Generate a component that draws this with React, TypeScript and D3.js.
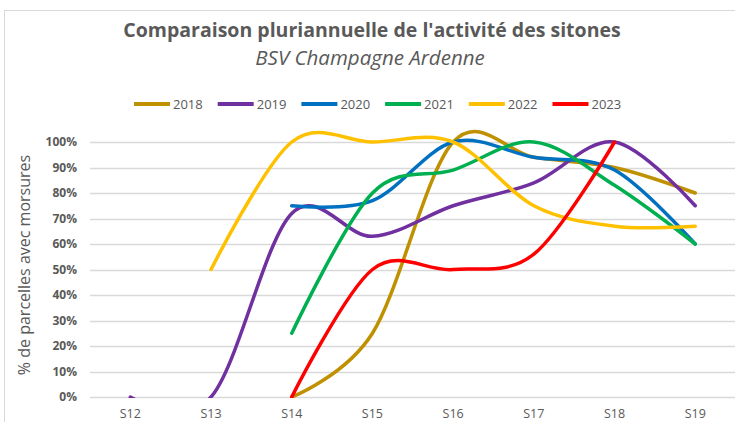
import React, { useEffect, useRef } from "react";
import * as d3 from "d3";

// Semaines et séries (part des parcelles avec morsures)
const weeks = ["S12", "S13", "S14", "S15", "S16", "S17", "S18", "S19"];
const years = ["2018", "2019", "2020", "2021", "2022", "2023"];
const colors = ["#BF9000", "#7030A0", "#0070C0", "#00B050", "#FFC000", "#FF0000"];

const s2018 = [null, null, 0, 0.25, 1.0, 0.94, 0.9, 0.8];
const s2019 = [0, 0, 0.72, 0.63, 0.75, 0.84, 1.0, 0.75];
const s2020 = [null, null, 0.75, 0.77, 1.0, 0.94, 0.89, 0.6];
const s2021 = [null, null, 0.25, 0.8, 0.89, 1.0, 0.83, 0.6];
const s2022 = [null, 0.5, 1.0, 1.0, 1.0, 0.75, 0.67, 0.67];
const s2023 = [null, null, 0, 0.5, 0.5, 0.56, 1.0, null];

const yTicks = [0, 0.1, 0.2, 0.3, 0.4, 0.5, 0.6, 0.7, 0.8, 0.9, 1.0];

const App = () => {
  const chartRef = useRef<HTMLDivElement>(null);

  useEffect(() => {
    d3.select(chartRef.current).select("svg").remove();

    const width = 735;
    const height = 422;
    const margin = { top: 142, right: 0, bottom: 25, left: 90 };
    const font = "'Open Sans', sans-serif";
    const series = [s2018, s2019, s2020, s2021, s2022, s2023];

    const svg = d3
      .select(chartRef.current)
      .append("svg")
      .attr("width", width)
      .attr("height", height)
      .style("position", "absolute")
      .style("left", 0)
      .style("top", 0)
      .style("font-family", font);

    svg.append("rect").attr("width", width).attr("height", height).attr("fill", "#fff");

    // chart area border (cut at the right and bottom in the original)
    svg
      .append("rect")
      .attr("x", 4.5)
      .attr("y", 10.5)
      .attr("width", 800)
      .attr("height", 500)
      .attr("fill", "none")
      .attr("stroke", "#d9d9d9");

    const x = d3
      .scaleBand()
      .domain(weeks)
      .range([margin.left, margin.left + 8 * 80.7]);

    const y = d3
      .scaleLinear()
      .domain([0, 1])
      .range([height - margin.bottom, margin.top]);

    // gridlines
    svg
      .append("g")
      .selectAll("line")
      .data(yTicks)
      .join("line")
      .attr("x1", margin.left)
      .attr("x2", width)
      .attr("y1", (d) => Math.round(y(d)) + 0.5)
      .attr("y2", (d) => Math.round(y(d)) + 0.5)
      .attr("stroke", "#d9d9d9")
      .attr("stroke-width", 1.3);

    // y tick labels
    svg
      .append("g")
      .selectAll("text")
      .data(yTicks)
      .join("text")
      .attr("x", 77)
      .attr("y", (d) => y(d))
      .attr("dy", "0.35em")
      .attr("text-anchor", "end")
      .style("font-size", "12px")
      .style("font-weight", "bold")
      .style("fill", "#595959")
      .text((d) => d3.format(".0%")(d));

    // x labels
    svg
      .append("g")
      .selectAll("text")
      .data(weeks)
      .join("text")
      .attr("x", (d) => x(d)! + x.bandwidth() / 2)
      .attr("y", 418)
      .attr("text-anchor", "middle")
      .style("font-size", "12.5px")
      .style("fill", "#595959")
      .text((d) => d);

    // axis title
    svg
      .append("text")
      .attr("transform", "translate(30, 265) rotate(-90)")
      .attr("text-anchor", "middle")
      .style("font-size", "16px")
      .style("fill", "#595959")
      .text("% de parcelles avec morsures");

    // titles
    svg
      .append("text")
      .attr("x", 372)
      .attr("y", 37)
      .attr("text-anchor", "middle")
      .style("font-size", "19.5px")
      .style("font-weight", "bold")
      .style("fill", "#595959")
      .text("Comparaison pluriannuelle de l'activité des sitones");

    svg
      .append("text")
      .attr("x", 370)
      .attr("y", 65)
      .attr("text-anchor", "middle")
      .style("font-size", "20.5px")
      .style("font-style", "italic")
      .style("fill", "#595959")
      .text("BSV Champagne Ardenne");

    // legend
    const legend = svg
      .append("g")
      .selectAll("g")
      .data(years)
      .join("g")
      .attr("transform", (d, i) => `translate(${134 + i * 83.7}, 104)`);

    legend
      .append("line")
      .attr("x1", 0)
      .attr("x2", 36)
      .attr("stroke", (d, i) => colors[i])
      .attr("stroke-width", 4);

    legend
      .append("text")
      .attr("x", 39)
      .attr("dy", "0.35em")
      .style("font-size", "13px")
      .style("fill", "#595959")
      .text((d) => d);

    // lines, clipped to the plot area like Excel does
    svg
      .append("clipPath")
      .attr("id", "plot-clip")
      .append("rect")
      .attr("x", margin.left)
      .attr("y", 118)
      .attr("width", width - margin.left)
      .attr("height", y(0) - 118 + 1);

    const line = d3
      .line<number | null>()
      .defined((d) => d !== null)
      .x((d, i) => x(weeks[i])! + x.bandwidth() / 2)
      .y((d) => y(d as number))
      .curve(d3.curveCardinal.tension(0));

    svg
      .append("g")
      .attr("clip-path", "url(#plot-clip)")
      .selectAll("path")
      .data(series)
      .join("path")
      .attr("d", (d) => line(d))
      .attr("fill", "none")
      .attr("stroke", (d, i) => colors[i])
      .attr("stroke-width", 3.5)
      .attr("stroke-linecap", "round");
  }, []);

  return <div ref={chartRef}></div>;
};

export default App;
